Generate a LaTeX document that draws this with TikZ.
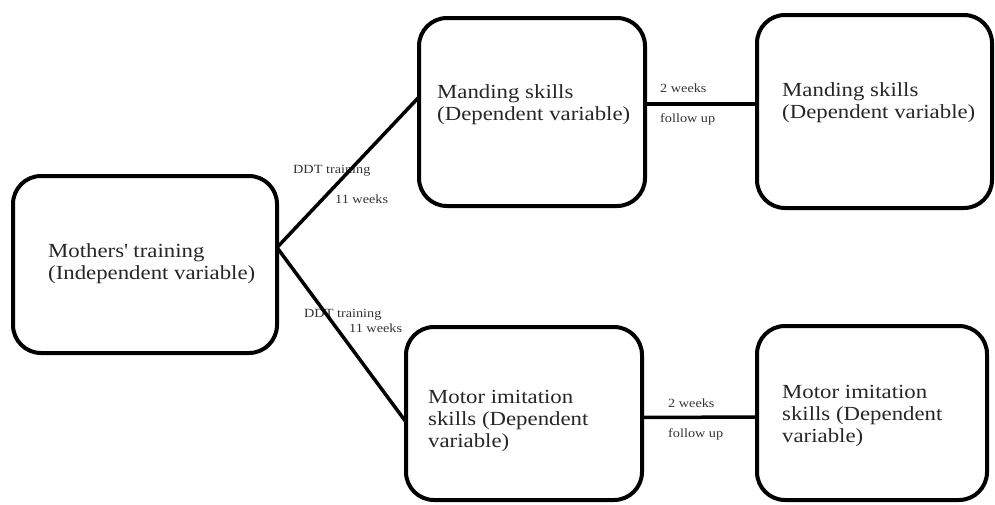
\documentclass[tikz,border=0pt]{standalone}
\usepackage{fontspec}
\setmainfont{Liberation Serif}[FakeStretch=1.14]
\usepackage{tikz}

\begin{document}
\begin{tikzpicture}[x=1pt, y=-1pt,
  box/.style={draw, line width=4pt, rounded corners=28pt, inner sep=0pt, outer sep=0pt},
  boxtext/.style={anchor=base west, align=left, inner sep=0pt, text=black!85, font=\fontsize{20}{22}\selectfont},
  steplabel/.style={anchor=base west, inner sep=0pt, text=black!80, font=\fontsize{12.5}{14}\selectfont},
  link/.style={line width=3.5pt}]
\useasboundingbox (0,0) rectangle (995,504);
% boxes
\node[box, minimum width=264pt, minimum height=177pt] (mothers) at (145,264.5) {};
\node[box, minimum width=226pt, minimum height=188pt] (mandA) at (532,112) {};
\node[box, minimum width=235pt, minimum height=193pt] (mandB) at (874.5,111.5) {};
\node[box, minimum width=236pt, minimum height=173pt] (motorA) at (524,413.5) {};
\node[box, minimum width=230pt, minimum height=174pt] (motorB) at (872,413) {};
% box texts (anchored on the last line)
\node[boxtext] (tmothers) at (48,279) {Mothers\textquotesingle{} training\\(Independent variable)};
\node[boxtext] (tmandA) at (437,120) {Manding skills\\(Dependent variable)};
\node[boxtext] (tmandB) at (782,118) {Manding skills\\(Dependent variable)};
\node[boxtext] (tmotorA) at (428,447) {Motor imitation\\skills (Dependent\\variable)};
\node[boxtext] (tmotorB) at (782,442) {Motor imitation\\skills (Dependent\\variable)};
% labels on the links
\node[steplabel] (ddtA) at (293,173) {DDT training};
\node[steplabel] (wkA) at (335,203) {11 weeks};
\node[steplabel] (ddtB) at (304,317) {DDT training};
\node[steplabel] (wkB) at (349,332) {11 weeks};
\node[steplabel] (fwA) at (660,92) {2 weeks};
\node[steplabel] (fuA) at (660,122) {follow up};
\node[steplabel] (fwB) at (668,407) {2 weeks};
\node[steplabel] (fuB) at (668,437) {follow up};
% links
\draw[link] ([yshift=17pt]mothers.east) -- ([yshift=15pt]mandA.west);
\draw[link] ([yshift=17pt]mothers.east) -- ([yshift=-8.5pt]motorA.west);
\draw[link] ([yshift=8pt]mandA.east) -- ([yshift=7.5pt]mandB.west);
\draw[link] ([yshift=-4pt]motorA.east) -- ([yshift=-4pt]motorB.west);
\end{tikzpicture}
\end{document}
